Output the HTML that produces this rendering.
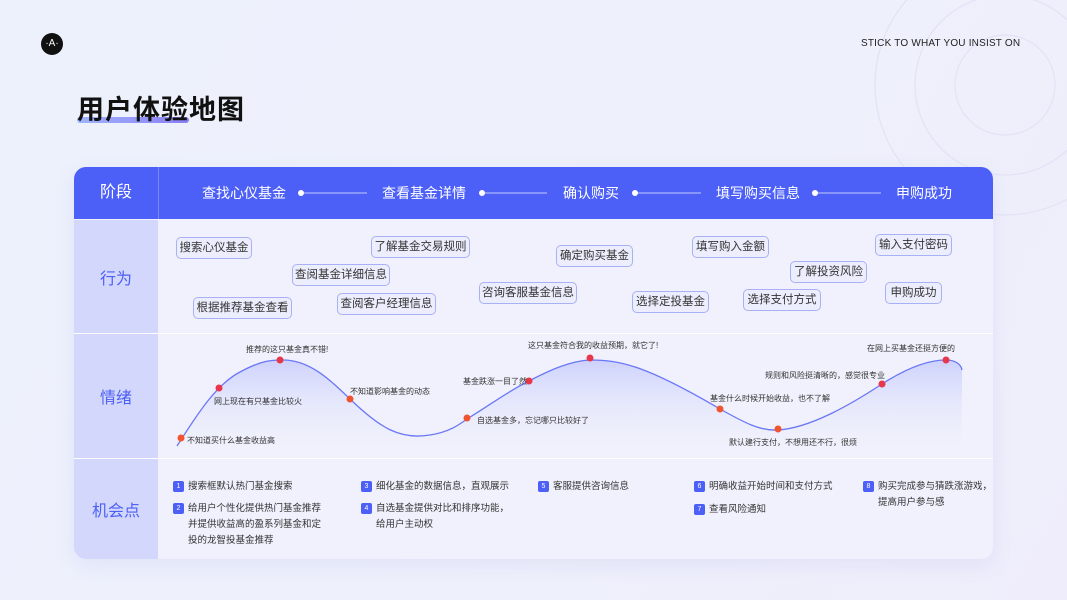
<!DOCTYPE html>
<html><head><meta charset="utf-8"><style>
*{margin:0;padding:0;box-sizing:border-box}
body{width:1067px;height:600px;overflow:hidden;position:relative;font-family:"Liberation Sans","Noto Sans CJK SC",sans-serif;background:linear-gradient(120deg,#edf1fc 0%,#eef0fb 60%,#efedfb 100%)}
.abs{position:absolute}
.pill{position:absolute;height:22px;border:1px solid #a9b1f4;background:#eceefd;border-radius:5px;font-size:11.5px;color:#333;line-height:20px;text-align:center;white-space:nowrap}
.lbl{position:absolute;font-size:8px;color:#333;white-space:nowrap}
.op{position:absolute;font-size:9.5px;color:#333;line-height:16px;white-space:nowrap}
.nb{display:inline-block;width:11px;height:11px;background:#4c5ff7;color:#fff;border-radius:2px;font-size:7px;line-height:11px;text-align:center;margin-right:4px;vertical-align:1px}
.side{position:absolute;left:74px;width:84px;background:#d3d7fb;color:#4c5ff7;font-size:16px;display:flex;align-items:center;justify-content:center}
</style></head><body>
<svg class="abs" style="left:0;top:0" width="1067" height="600">
<g fill="none" stroke="#e2e2f6" stroke-width="1.2">
<circle cx="1005" cy="85" r="50"/><circle cx="1005" cy="85" r="90"/><circle cx="1005" cy="85" r="130"/>
</g></svg>
<div class="abs" style="left:41px;top:33px;width:22px;height:22px;border-radius:50%;background:#111;color:#fff;font-size:10px;line-height:22px;text-align:center">·A·</div>
<div class="abs" style="left:861px;top:38px;font-size:10px;color:#222;letter-spacing:0.2px">STICK TO WHAT YOU INSIST ON</div>
<div class="abs" style="left:77px;top:117px;width:112px;height:6px;border-radius:3px;background:linear-gradient(90deg,#9fb3fb,#8b7ff5)"></div>
<div class="abs" style="left:77px;top:88px;font-size:27px;color:#111;letter-spacing:1px;font-weight:bold">用户体验地图</div>

<div class="abs" style="left:74px;top:167px;width:919px;height:392px;border-radius:12px;background:#f0f1fc;overflow:hidden;box-shadow:0 6px 20px rgba(120,130,220,0.12)">
</div>
<div class="abs" style="left:74px;top:167px;width:919px;height:52px;border-radius:12px 12px 0 0;background:#4c5ff7"></div>
<div class="abs" style="left:158px;top:167px;width:1px;height:52px;background:#7888fa"></div>
<div class="abs" style="left:74px;top:167px;width:84px;height:52px;color:#fff;font-size:16px;line-height:52px;text-align:center">阶段</div>
<div class="abs" style="left:0;top:183px;width:1067px;height:18px;color:#fff;font-size:14px">
<span class="abs" style="left:202px">查找心仪基金</span>
<span class="abs" style="left:382px">查看基金详情</span>
<span class="abs" style="left:563px">确认购买</span>
<span class="abs" style="left:716px">填写购买信息</span>
<span class="abs" style="left:896px">申购成功</span>
</div>
<svg class="abs" style="left:0;top:0" width="1067" height="600">
<g stroke="#c4cbfd" stroke-width="1"><line x1="301" y1="193" x2="367" y2="193"/><line x1="482" y1="193" x2="547" y2="193"/><line x1="635" y1="193" x2="701" y2="193"/><line x1="815" y1="193" x2="881" y2="193"/></g>
<g fill="#fff"><circle cx="301" cy="193" r="3"/><circle cx="482" cy="193" r="3"/><circle cx="635" cy="193" r="3"/><circle cx="815" cy="193" r="3"/></g>
</svg>
<div class="side" style="top:220px;height:113px">行为</div>
<div class="side" style="top:334px;height:124px">情绪</div>
<div class="side" style="top:459px;height:100px;border-radius:0 0 0 12px">机会点</div>
<div class="abs" style="left:74px;top:333px;width:919px;height:1px;background:#fff"></div>
<div class="abs" style="left:74px;top:458px;width:919px;height:1px;background:#fff"></div>

<div class="pill" style="left:176px;top:237px;width:76px">搜索心仪基金</div>
<div class="pill" style="left:371px;top:236px;width:99px">了解基金交易规则</div>
<div class="pill" style="left:292px;top:264px;width:98px">查阅基金详细信息</div>
<div class="pill" style="left:193px;top:297px;width:99px">根据推荐基金查看</div>
<div class="pill" style="left:337px;top:293px;width:99px">查阅客户经理信息</div>
<div class="pill" style="left:556px;top:245px;width:77px">确定购买基金</div>
<div class="pill" style="left:479px;top:282px;width:98px">咨询客服基金信息</div>
<div class="pill" style="left:692px;top:236px;width:77px">填写购入金额</div>
<div class="pill" style="left:632px;top:291px;width:77px">选择定投基金</div>
<div class="pill" style="left:790px;top:261px;width:77px">了解投资风险</div>
<div class="pill" style="left:743px;top:289px;width:78px">选择支付方式</div>
<div class="pill" style="left:875px;top:234px;width:77px">输入支付密码</div>
<div class="pill" style="left:885px;top:282px;width:57px">申购成功</div>

<svg class="abs" style="left:0;top:0" width="1067" height="600">
<defs><linearGradient id="g" x1="0" y1="0" x2="0" y2="1"><stop offset="0" stop-color="#c9cefb" stop-opacity="0.9"/><stop offset="1" stop-color="#eef0fc" stop-opacity="0"/></linearGradient></defs>
<path id="c" d="M177,446 C195,418 215,385 240,372 C262,360 272,360 283,360 C310,360 330,380 350,399 C380,428 400,440 430,435 C450,432 460,424 467,419 C490,405 510,390 529,381 C550,370 570,361 590,360 C620,360 645,365 720,409 C745,423 760,431 778,430 C810,428 850,405 882,384 C910,366 930,360 946,360 C955,360 961,364 962,370" fill="none"/>
<path d="M177,446 C195,418 215,385 240,372 C262,360 272,360 283,360 C310,360 330,380 350,399 C380,428 400,440 430,435 C450,432 460,424 467,419 C490,405 510,390 529,381 C550,370 570,361 590,360 C620,360 645,365 720,409 C745,423 760,431 778,430 C810,428 850,405 882,384 C910,366 930,360 946,360 C955,360 961,364 962,370 L962,455 L177,455 Z" fill="url(#g)"/>
<use href="#c" stroke="#6a77f5" stroke-width="1.3"/>
<g>
<circle cx="181" cy="438" r="3.5" fill="#f0552f"/><circle cx="219" cy="388" r="3.5" fill="#e8364a"/><circle cx="280" cy="360" r="3.5" fill="#e8364a"/><circle cx="350" cy="399" r="3.5" fill="#f0552f"/><circle cx="467" cy="418" r="3.5" fill="#f0552f"/><circle cx="529" cy="381" r="3.5" fill="#e8364a"/><circle cx="590" cy="358" r="3.5" fill="#e8364a"/><circle cx="720" cy="409" r="3.5" fill="#f0552f"/><circle cx="778" cy="429" r="3.5" fill="#f0552f"/><circle cx="882" cy="384" r="3.5" fill="#e8364a"/><circle cx="946" cy="360" r="3.5" fill="#e8364a"/>
</g></svg>
<div class="lbl" style="left:187px;top:435px">不知道买什么基金收益高</div>
<div class="lbl" style="left:214px;top:396px">网上现在有只基金比较火</div>
<div class="lbl" style="left:246px;top:344px">推荐的这只基金真不错!</div>
<div class="lbl" style="left:350px;top:386px">不知道影响基金的动态</div>
<div class="lbl" style="left:477px;top:415px">自选基金多，忘记哪只比较好了</div>
<div class="lbl" style="left:463px;top:376px">基金跌涨一目了然</div>
<div class="lbl" style="left:528px;top:340px">这只基金符合我的收益预期，就它了!</div>
<div class="lbl" style="left:710px;top:393px">基金什么时候开始收益，也不了解</div>
<div class="lbl" style="left:729px;top:437px">默认建行支付，不想用还不行，很烦</div>
<div class="lbl" style="left:765px;top:370px">规则和风险挺清晰的，感觉很专业</div>
<div class="lbl" style="left:867px;top:343px">在网上买基金还挺方便的</div>

<div class="op" style="left:173px;top:479px"><span class="nb">1</span>搜索框默认热门基金搜索</div>
<div class="op" style="left:173px;top:501px"><span class="nb">2</span>给用户个性化提供热门基金推荐<br><span style="padding-left:15px">并提供收益高的盈系列基金和定</span><br><span style="padding-left:15px">投的龙智投基金推荐</span></div>
<div class="op" style="left:361px;top:479px"><span class="nb">3</span>细化基金的数据信息，直观展示</div>
<div class="op" style="left:361px;top:501px"><span class="nb">4</span>自选基金提供对比和排序功能，<br><span style="padding-left:15px">给用户主动权</span></div>
<div class="op" style="left:538px;top:479px"><span class="nb">5</span>客服提供咨询信息</div>
<div class="op" style="left:694px;top:479px"><span class="nb">6</span>明确收益开始时间和支付方式</div>
<div class="op" style="left:694px;top:502px"><span class="nb">7</span>查看风险通知</div>
<div class="op" style="left:863px;top:479px"><span class="nb">8</span>购买完成参与猜跌涨游戏，<br><span style="padding-left:15px">提高用户参与感</span></div>
</body></html>
